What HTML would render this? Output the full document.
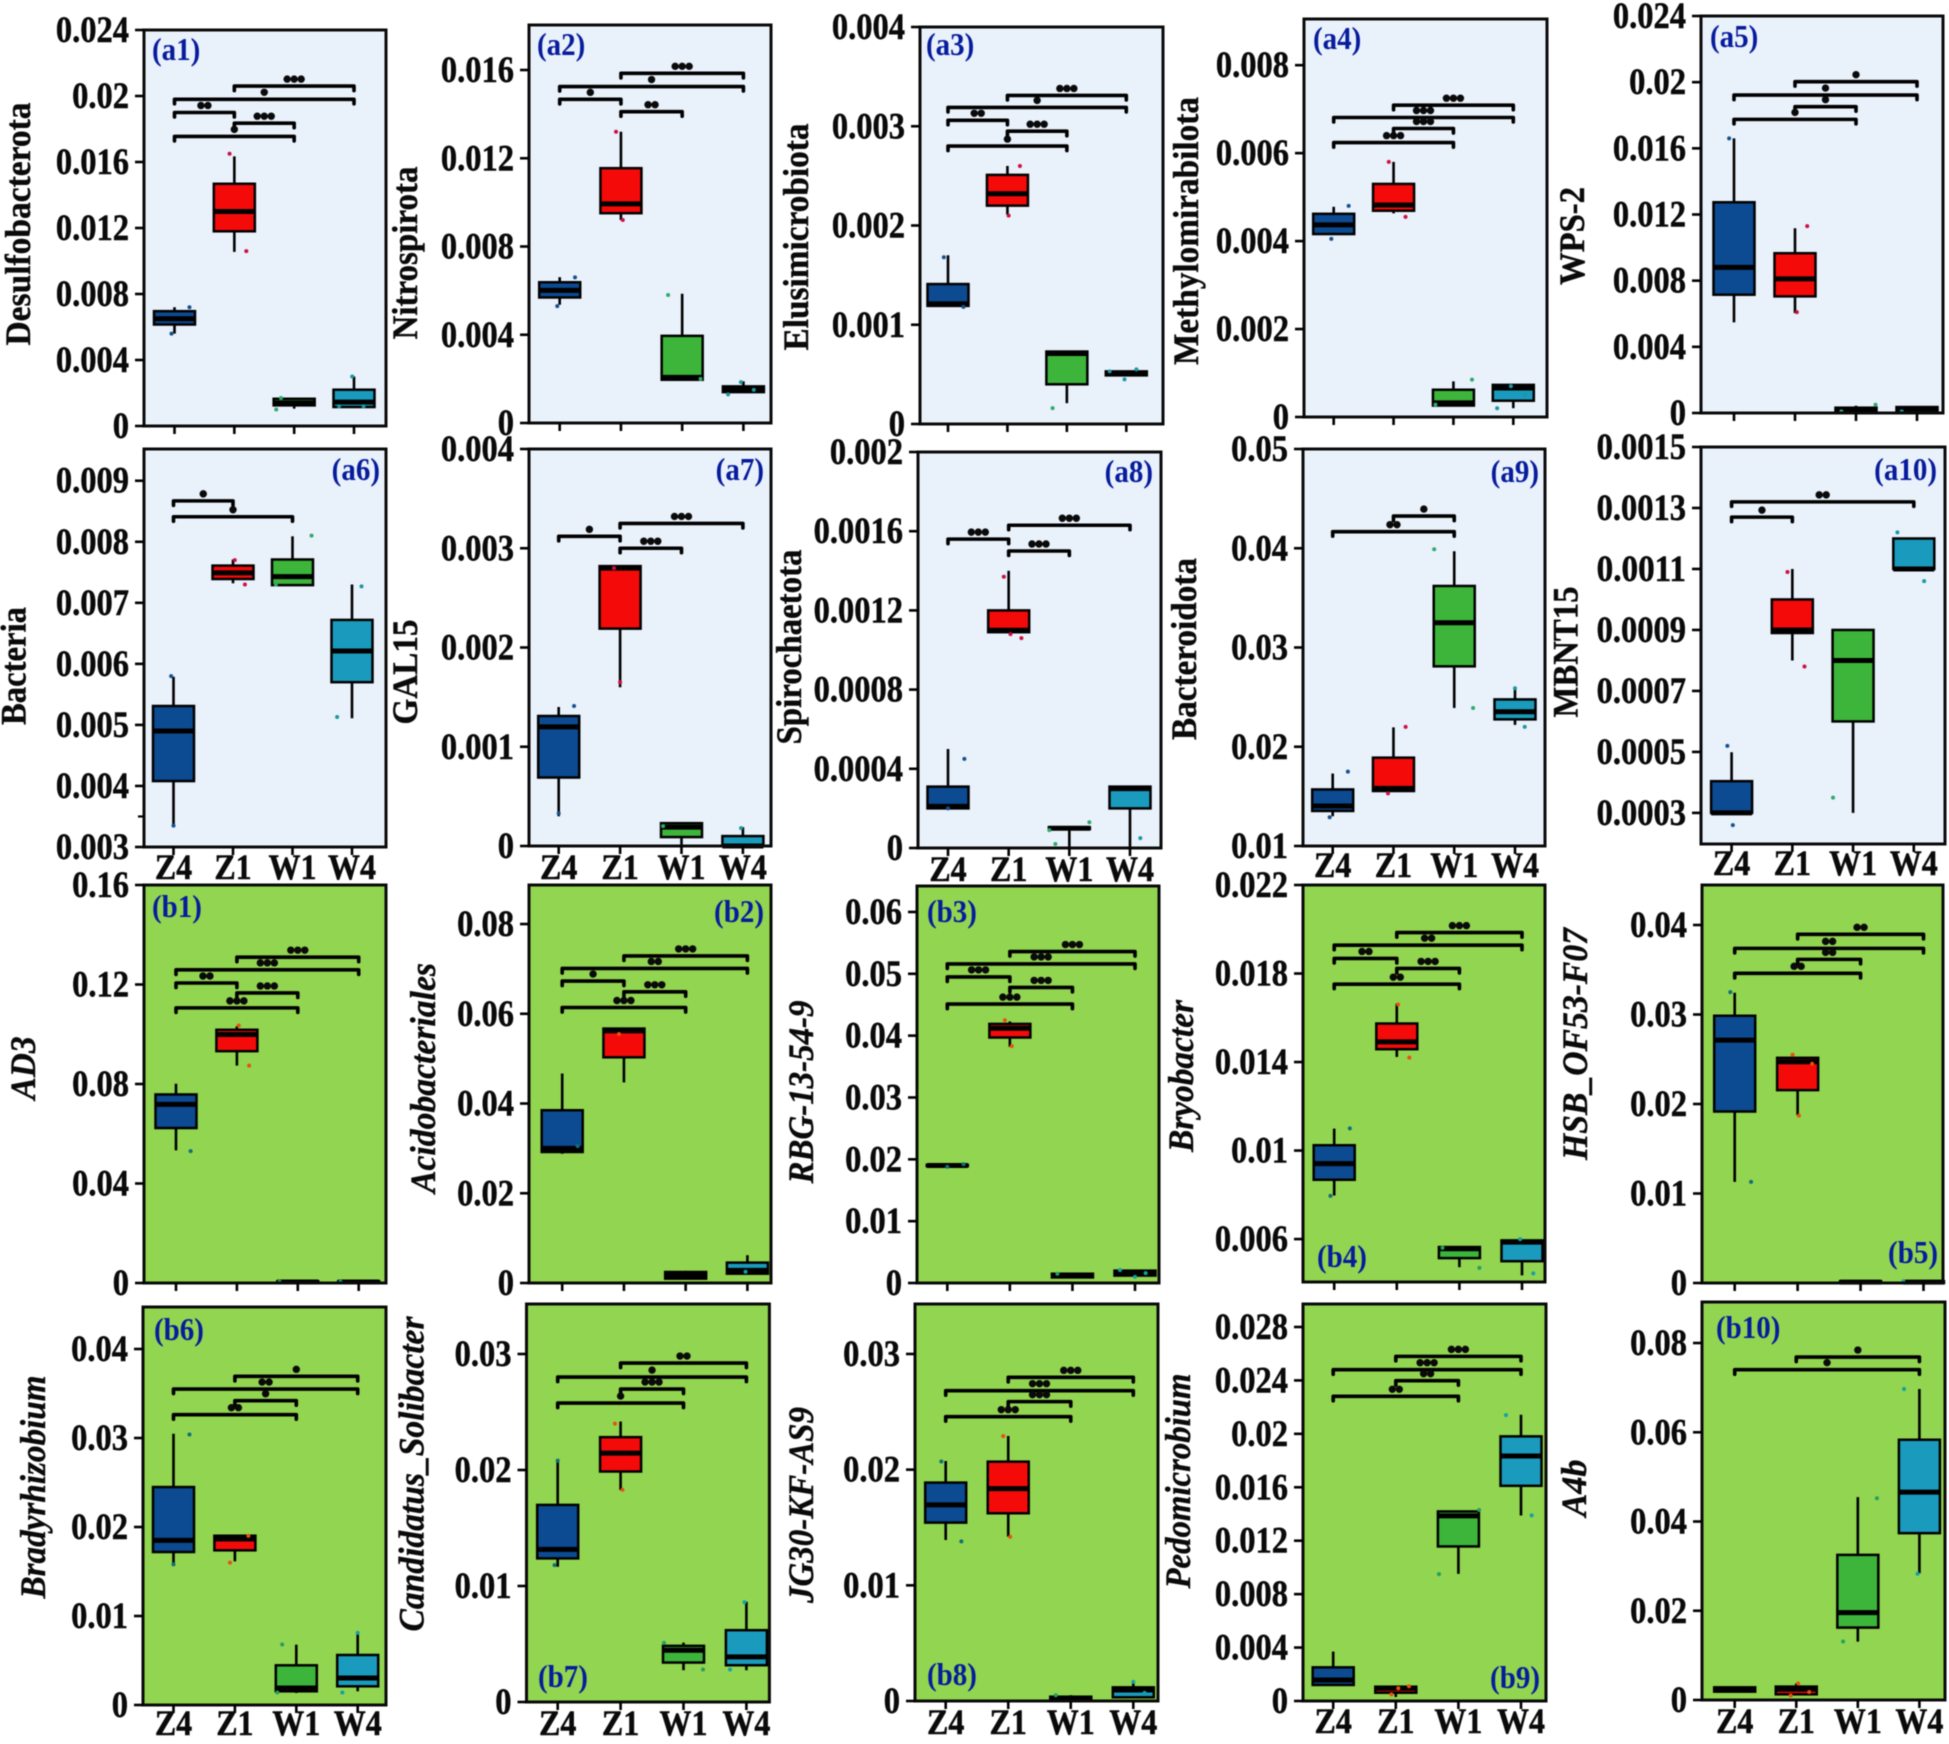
<!DOCTYPE html>
<html lang="en">
<head>
<meta charset="utf-8">
<title>Relative abundance box plots by group</title>
<style>
  html, body { margin: 0; padding: 0; background: #fff; }
  #figure { display: block; filter: blur(0.5px); }
  text { font-family: "Liberation Serif", "Noto Serif CJK SC", serif; font-weight: bold; }
</style>
</head>
<body>
<svg id="figure" xmlns="http://www.w3.org/2000/svg" width="1949" height="1744" viewBox="0 0 1949 1744"></svg>
<script>
const groupLabels = ['Z4', 'Z1', 'W1', 'W4'];

// Each box row: [low whisker, Q1, median, Q3, high whisker] for Z4, Z1, W1, W4
// Each point row: [group index, jitter in category units, value]
// Each bracket row: [from group, to group, value height, significance count]

const a1Title = 'Desulfobacterota';
const a1Domain = [0, 0.024];
const a1Ticks = ['0', '0.004', '0.008', '0.012', '0.016', '0.02', '0.024'];
const a1Boxes = [[0.0056, 0.00615, 0.0065, 0.00696, 0.0072], [0.01055, 0.0118, 0.013, 0.01468, 0.01634], [0.00105, 0.00125, 0.0014, 0.00165, 0.0017], [0.00115, 0.00115, 0.00145, 0.0022, 0.003]];
const a1Points = [[0, 0.25, 0.0072], [0, -0.05, 0.0056], [1, -0.08, 0.0165], [1, 0.2, 0.0106], [2, -0.22, 0.0017], [2, -0.3, 0.001], [3, -0.03, 0.003], [3, 0.16, 0.0012], [3, -0.25, 0.0012]];
const a1Brackets = [[1, 3, 0.0206, 3], [0, 3, 0.0198, 1], [0, 1, 0.019, 2], [1, 2, 0.01835, 3], [0, 2, 0.01755, 1]];

const a2Title = 'Nitrospirota';
const a2Domain = [0, 0.01804];
const a2Ticks = ['0', '0.004', '0.008', '0.012', '0.016'];
const a2Boxes = [[0.00536, 0.00569, 0.00601, 0.00638, 0.00661], [0.0092, 0.00951, 0.00993, 0.01155, 0.0132], [0.00196, 0.00196, 0.00207, 0.00395, 0.00586], [0.00136, 0.0014, 0.00154, 0.00166, 0.00189]];
const a2Points = [[0, 0.25, 0.0066], [0, -0.04, 0.0053], [1, -0.08, 0.0132], [1, 0.03, 0.0092], [2, -0.23, 0.0058], [2, 0.3, 0.002], [3, -0.04, 0.00185], [3, -0.25, 0.0013], [3, 0.17, 0.0015]];
const a2Brackets = [[1, 3, 0.01585, 3], [0, 3, 0.01525, 1], [0, 1, 0.01467, 1], [1, 2, 0.01411, 2]];

const a3Title = 'Elusimicrobiota';
const a3Domain = [0, 0.004];
const a3Ticks = ['0', '0.001', '0.002', '0.003', '0.004'];
const a3Boxes = [[0.00119, 0.00119, 0.00121, 0.00141, 0.0017], [0.00211, 0.0022, 0.00232, 0.00251, 0.0026], [0.00021, 0.0004, 0.00071, 0.00073, 0.00073], [0.00049, 0.00049, 0.00051, 0.00053, 0.00053]];
const a3Points = [[0, -0.07, 0.00168], [0, 0.26, 0.00118], [1, 0.21, 0.0026], [1, 0.02, 0.0021], [2, -0.24, 0.00016], [3, 0.17, 0.00055], [3, -0.03, 0.00045], [3, -0.28, 0.00053]];
const a3Brackets = [[1, 3, 0.00331, 3], [0, 3, 0.00319, 1], [0, 1, 0.00306, 2], [1, 2, 0.00295, 3], [0, 2, 0.0028, 1]];

const a4Title = 'Methylomirabilota';
const a4Domain = [0, 0.00905];
const a4Ticks = ['0', '0.002', '0.004', '0.006', '0.008'];
const a4Boxes = [[0.00416, 0.00416, 0.00437, 0.00462, 0.00478], [0.00463, 0.00469, 0.00482, 0.0053, 0.0058], [0.00026, 0.00026, 0.00032, 0.00062, 0.00081], [0.0002, 0.00037, 0.00066, 0.00073, 0.00073]];
const a4Points = [[0, 0.25, 0.0048], [0, -0.04, 0.00405], [1, -0.08, 0.0058], [1, 0.2, 0.00455], [2, 0.31, 0.00085], [2, -0.3, 0.00028], [3, -0.04, 0.0007], [3, -0.27, 0.0002], [3, 0.2, 0.0005]];
const a4Brackets = [[1, 3, 0.00709, 3], [0, 3, 0.00681, 3], [1, 2, 0.00656, 3], [0, 2, 0.00624, 3]];

const a5Title = 'WPS-2';
const a5Domain = [0, 0.024];
const a5Ticks = ['0', '0.004', '0.008', '0.012', '0.016', '0.02', '0.024'];
const a5Boxes = [[0.00548, 0.00715, 0.0088, 0.01274, 0.0166], [0.00604, 0.00705, 0.00811, 0.00966, 0.01117], [0, 0, 0.0002, 0.00032, 0.00044], [0.00004, 0.00004, 0.00026, 0.00036, 0.00036]];
const a5Points = [[0, -0.08, 0.0166], [1, 0.2, 0.0113], [1, 0.03, 0.0061], [2, -0.24, 0.0001], [2, 0.32, 0.0005], [3, -0.25, 0.0001]];
const a5Brackets = [[1, 3, 0.02003, 1], [0, 3, 0.01922, 1], [1, 2, 0.01852, 1], [0, 2, 0.01775, 1]];

const a6Title = 'Bacteria';
const a6Domain = [0.003, 0.00952];
const a6Ticks = ['0.003', '0.004', '0.005', '0.006', '0.007', '0.008', '0.009'];
const a6MinorTicks = [0.0035];
const a6Boxes = [[0.00334, 0.00408, 0.0049, 0.00531, 0.00579], [0.00732, 0.00739, 0.00749, 0.00761, 0.00771], [0.00729, 0.00729, 0.00743, 0.00771, 0.00809], [0.00511, 0.0057, 0.00621, 0.00672, 0.0073]];
const a6Points = [[0, -0.04, 0.0058], [0, 0, 0.00335], [1, 0.03, 0.0077], [1, 0.2, 0.0073], [2, 0.32, 0.0081], [2, -0.28, 0.0073], [3, 0.16, 0.00727], [3, -0.25, 0.00513]];
const a6Brackets = [[0, 1, 0.00867, 1], [0, 2, 0.00841, 1]];

const a7Title = 'GAL15';
const a7Domain = [0, 0.004];
const a7Ticks = ['0', '0.001', '0.002', '0.003', '0.004'];
const a7Boxes = [[0.0003, 0.00069, 0.0012, 0.00131, 0.0014], [0.0016, 0.00219, 0.0028, 0.00282, 0.00282], [0, 0.00009, 0.00019, 0.00023, 0.00023], [0, 0, 0, 0.0001, 0.00019]];
const a7Points = [[0, 0.25, 0.00141], [0, 0, 0.00033], [1, 0, 0.00165], [1, -0.1, 0.0028], [2, -0.3, 0.0002], [3, -0.03, 0.00018]];
const a7Brackets = [[1, 3, 0.00325, 3], [0, 1, 0.00312, 1], [1, 2, 0.003, 3]];

const a8Title = 'Spirochaetota';
const a8Domain = [0, 0.002];
const a8Ticks = ['0', '0.0004', '0.0008', '0.0012', '0.0016', '0.002'];
const a8Boxes = [[0.0002, 0.0002, 0.00021, 0.00031, 0.0005], [0.00109, 0.00109, 0.0011, 0.0012, 0.0014], [0, 0.000095, 0.0001, 0.000105, 0.000105], [0, 0.0002, 0.0003, 0.00031, 0.00031]];
const a8Points = [[0, 0.27, 0.00045], [0, 0, 0.0002], [1, -0.08, 0.00137], [1, 0.21, 0.00106], [1, 0.03, 0.00108], [2, -0.33, 0.00009], [2, -0.23, 0.00002], [2, 0.33, 0.00013], [3, 0.17, 0.00005]];
const a8Brackets = [[1, 3, 0.00163, 3], [0, 1, 0.00156, 3], [1, 2, 0.0015, 3]];

const a9Title = 'Bacteroidota';
const a9Domain = [0.01, 0.05];
const a9Ticks = ['0.01', '0.02', '0.03', '0.04', '0.05'];
const a9Boxes = [[0.013, 0.01353, 0.01403, 0.0157, 0.0173], [0.01554, 0.01554, 0.0158, 0.0189, 0.02195], [0.0239, 0.0281, 0.0325, 0.0362, 0.0397], [0.0222, 0.02276, 0.02353, 0.02477, 0.02605]];
const a9Points = [[0, 0.25, 0.0175], [0, -0.05, 0.0129], [1, 0.2, 0.022], [1, -0.09, 0.0153], [2, -0.33, 0.0399], [2, 0.31, 0.0239], [3, 0, 0.0259], [3, 0.16, 0.022]];
const a9Brackets = [[1, 2, 0.04324, 1], [0, 2, 0.04167, 2]];

const a10Title = 'MBNT15';
const a10Domain = [0.000198, 0.0015];
const a10Ticks = ['0.0003', '0.0005', '0.0007', '0.0009', '0.0011', '0.0013', '0.0015'];
const a10Boxes = [[0.0003, 0.0003, 0.0003, 0.000404, 0.000499], [0.0008, 0.00089, 0.0009, 0.001, 0.0011], [0.0003, 0.0006, 0.0008, 0.0009, 0.0009], [0.0011, 0.0011, 0.0011, 0.0012, 0.0012]];
const a10Points = [[0, -0.07, 0.00052], [0, 0.02, 0.00026], [1, -0.08, 0.00109], [1, 0.2, 0.00078], [2, -0.33, 0.00035], [3, -0.27, 0.00122], [3, 0.17, 0.00106]];
const a10Brackets = [[0, 3, 0.00132, 2], [0, 1, 0.00127, 1]];

const b1Title = 'AD3';
const b1Domain = [0, 0.16];
const b1Ticks = ['0', '0.04', '0.08', '0.12', '0.16'];
const b1Boxes = [[0.0533, 0.0623, 0.0718, 0.0758, 0.0801], [0.0874, 0.0932, 0.0999, 0.1018, 0.1032], [0.0001, 0.0001, 0.0004, 0.0007, 0.0008], [0.0001, 0.0001, 0.0004, 0.0007, 0.0008]];
const b1Points = [[0, 0.24, 0.053], [1, 0.2, 0.0874], [1, 0.03, 0.1035], [2, -0.3, 0.0005], [3, -0.3, 0.0005]];
const b1Brackets = [[1, 3, 0.131, 3], [0, 3, 0.1259, 3], [0, 1, 0.1206, 2], [1, 2, 0.1166, 3], [0, 2, 0.1106, 3]];

const b2Title = 'Acidobacteriales';
const b2Domain = [0, 0.0887];
const b2Ticks = ['0', '0.02', '0.04', '0.06', '0.08'];
const b2Boxes = [[0.0288, 0.0292, 0.03, 0.0385, 0.0467], [0.0447, 0.0503, 0.0562, 0.0567, 0.0567], [0.0008, 0.00097, 0.0017, 0.00245, 0.0027], [0.00208, 0.00208, 0.0028, 0.00454, 0.0062]];
const b2Points = [[0, 0.25, 0.0305], [1, -0.08, 0.0555], [3, -0.03, 0.0025]];
const b2Brackets = [[1, 3, 0.0729, 3], [0, 3, 0.0701, 2], [0, 1, 0.0673, 1], [1, 2, 0.0649, 3], [0, 2, 0.0614, 3]];

const b3Title = 'RBG-13-54-9';
const b3Domain = [0, 0.0642];
const b3Ticks = ['0', '0.01', '0.02', '0.03', '0.04', '0.05', '0.06'];
const b3Boxes = [[0.0189, 0.0189, 0.019, 0.0191, 0.0191], [0.0382, 0.0397, 0.0412, 0.0419, 0.0423], [0.0009, 0.0009, 0.0012, 0.0015, 0.0015], [0.0012, 0.0012, 0.0016, 0.002, 0.002]];
const b3Points = [[0, 0.26, 0.0192], [0, 0, 0.0188], [1, -0.08, 0.0425], [1, 0.03, 0.0383], [2, -0.24, 0.0015], [3, -0.24, 0.0021], [3, 0, 0.001], [3, 0.17, 0.0016]];
const b3Brackets = [[1, 3, 0.0536, 3], [0, 3, 0.0516, 3], [0, 1, 0.0495, 3], [1, 2, 0.0478, 3], [0, 2, 0.0451, 3]];

const b4Title = 'Bryobacter';
const b4Domain = [0.00406, 0.022];
const b4Ticks = ['0.006', '0.01', '0.014', '0.018', '0.022'];
const b4Boxes = [[0.00797, 0.00868, 0.00941, 0.01024, 0.01099], [0.01423, 0.01458, 0.01491, 0.01574, 0.01664], [0.00473, 0.00514, 0.00556, 0.00564, 0.00564], [0.00436, 0.005, 0.00586, 0.00594, 0.00594]];
const b4Points = [[0, 0.25, 0.011], [0, -0.06, 0.00795], [1, 0.02, 0.0166], [1, 0.2, 0.0142], [2, 0.32, 0.0047], [2, -0.27, 0.0056], [3, 0.18, 0.00445], [3, -0.03, 0.006]];
const b4Brackets = [[1, 3, 0.01985, 3], [0, 3, 0.01928, 2], [0, 1, 0.01868, 2], [1, 2, 0.01823, 3], [0, 2, 0.01752, 2]];

const b5Title = 'HSB_OF53-F07';
const b5Domain = [0, 0.04447];
const b5Ticks = ['0', '0.01', '0.02', '0.03', '0.04'];
const b5Boxes = [[0.0113, 0.01916, 0.02714, 0.02986, 0.03243], [0.01875, 0.02155, 0.02472, 0.02516, 0.02516], [0, 0, 0.0001, 0.0002, 0.0002], [0, 0, 0.0001, 0.0002, 0.0002]];
const b5Points = [[0, 0.26, 0.0113], [0, -0.07, 0.0325], [1, 0.02, 0.0187], [1, -0.08, 0.0255], [1, 0.23, 0.0245], [3, -0.32, 0.0002]];
const b5Brackets = [[1, 3, 0.03896, 2], [0, 3, 0.03739, 2], [1, 2, 0.03616, 2], [0, 2, 0.0346, 2]];

const b6Title = 'Bradyrhizobium';
const b6Domain = [0, 0.04472];
const b6Ticks = ['0', '0.01', '0.02', '0.03', '0.04'];
const b6Boxes = [[0.01577, 0.01719, 0.0185, 0.02449, 0.03048], [0.01614, 0.01738, 0.01865, 0.01902, 0.01902], [0.00135, 0.00154, 0.00191, 0.00446, 0.00678], [0.00154, 0.0021, 0.00303, 0.00562, 0.00809]];
const b6Points = [[0, 0.26, 0.0304], [0, 0, 0.0158], [1, -0.08, 0.016], [1, 0.22, 0.019], [2, -0.23, 0.0068], [2, -0.31, 0.0014], [3, 0, 0.0081], [3, -0.25, 0.0014]];
const b6Brackets = [[1, 3, 0.03693, 1], [0, 3, 0.0355, 2], [1, 2, 0.03419, 1], [0, 2, 0.03262, 2]];

const b7Title = 'Candidatus_Solibacter';
const b7Domain = [0, 0.03431];
const b7Ticks = ['0', '0.01', '0.02', '0.03'];
const b7Boxes = [[0.01166, 0.01238, 0.01316, 0.01699, 0.02096], [0.01828, 0.01987, 0.02145, 0.02283, 0.02418], [0.00274, 0.0034, 0.00446, 0.00484, 0.00512], [0.00274, 0.00317, 0.00389, 0.00619, 0.00864]];
const b7Points = [[0, 0, 0.0208], [0, -0.05, 0.0118], [1, -0.09, 0.024], [1, 0.03, 0.0183], [2, 0.31, 0.0028], [2, -0.31, 0.0051], [3, -0.03, 0.0086], [3, -0.26, 0.0028]];
const b7Brackets = [[1, 3, 0.02922, 2], [0, 3, 0.02801, 1], [1, 2, 0.02698, 3], [0, 2, 0.02577, 1]];

const b8Title = 'JG30-KF-AS9';
const b8Domain = [0, 0.03432];
const b8Ticks = ['0', '0.01', '0.02', '0.03'];
const b8Boxes = [[0.01392, 0.01542, 0.01695, 0.01888, 0.02075], [0.01421, 0.01623, 0.01836, 0.02069, 0.02291], [0.00005, 0.00009, 0.0002, 0.00037, 0.0005], [0.00032, 0.00032, 0.00095, 0.00118, 0.00167]];
const b8Points = [[0, -0.07, 0.0207], [0, 0.25, 0.0138], [1, -0.08, 0.0229], [1, 0.03, 0.0142], [2, -0.24, 0.0005], [3, 0, 0.00165], [3, 0.18, 0.0007]];
const b8Brackets = [[1, 3, 0.02798, 3], [0, 3, 0.02683, 3], [1, 2, 0.02588, 3], [0, 2, 0.02458, 3]];

const b9Title = 'Pedomicrobium';
const b9Domain = [0, 0.02972];
const b9Ticks = ['0', '0.004', '0.008', '0.012', '0.016', '0.02', '0.024', '0.028'];
const b9Boxes = [[0.0012, 0.0012, 0.00157, 0.00252, 0.0037], [0.0003, 0.00062, 0.00095, 0.00107, 0.00107], [0.00952, 0.01157, 0.01386, 0.01419, 0.01426], [0.01389, 0.01611, 0.01834, 0.01981, 0.02143]];
const b9Points = [[1, -0.07, 0.0005], [1, 0.04, 0.00095], [1, 0.21, 0.0011], [2, -0.31, 0.0095], [2, 0.33, 0.0143], [3, -0.24, 0.0214], [3, 0.17, 0.0139]];
const b9Brackets = [[1, 3, 0.0258, 3], [0, 3, 0.0248, 3], [1, 2, 0.02398, 2], [0, 2, 0.02281, 2]];

const b10Title = 'A4b';
const b10Domain = [0, 0.08919];
const b10Ticks = ['0', '0.02', '0.04', '0.06', '0.08'];
const b10Boxes = [[0.00187, 0.00187, 0.0024, 0.00284, 0.00284], [0.00127, 0.00127, 0.0024, 0.003, 0.0037], [0.01308, 0.01623, 0.01959, 0.03252, 0.04546], [0.02841, 0.03739, 0.04658, 0.05832, 0.06969]];
const b10Points = [[1, 0.03, 0.0037], [1, -0.09, 0.001], [1, 0.21, 0.0018], [2, 0.31, 0.0452], [2, -0.24, 0.0131], [3, -0.25, 0.0697], [3, -0.03, 0.0283]];
const b10Brackets = [[1, 3, 0.07686, 1], [0, 3, 0.07402, 1]];

// Page geometry only (no data values): frame edges, first/last group x, title and tag placement.
const frameLayouts = {
  a1:  { l: 144,  r: 386,  t: 30,   b: 426,  x0: 174.5, x3: 354,    tx: 30,   ty: 224,  tl: 243, lx: 152,  ly: 60,   la: 'start' },
  a2:  { l: 529,  r: 771,  t: 25,   b: 423,  x0: 559.7, x3: 743.4,  tx: 417,  ty: 253,  tl: 173, lx: 537,  ly: 55,   la: 'start' },
  a3:  { l: 920,  r: 1163, t: 27,   b: 424,  x0: 948,   x3: 1126.3, tx: 808,  ty: 237,  tl: 227, lx: 926,  ly: 55,   la: 'start' },
  a4:  { l: 1304, r: 1547, t: 19,   b: 417,  x0: 1333.7, x3: 1513.3, tx: 1198, ty: 231, tl: 268, lx: 1313, ly: 49,   la: 'start' },
  a5:  { l: 1701, r: 1943, t: 16,   b: 413,  x0: 1734,  x3: 1917,   tx: 1584, ty: 236,  tl: 98,  lx: 1710, ly: 47,   la: 'start' },
  a6:  { l: 144,  r: 386,  t: 449,  b: 847,  x0: 173.5, x3: 352,    tx: 25.5, ty: 666,  tl: 118, lx: 380,  ly: 480,  la: 'end', xl: 879 },
  a7:  { l: 529,  r: 771,  t: 449,  b: 846,  x0: 558.7, x3: 742.9,  tx: 417,  ty: 672,  tl: 105, lx: 764,  ly: 480,  la: 'end', xl: 879 },
  a8:  { l: 918,  r: 1161, t: 452,  b: 848,  x0: 948,   x3: 1130,   tx: 801,  ty: 647,  tl: 195, lx: 1153, ly: 482,  la: 'end', xl: 881 },
  a9:  { l: 1303, r: 1545, t: 449,  b: 846,  x0: 1332.7, x3: 1515,  tx: 1196, ty: 649,  tl: 182, lx: 1539, ly: 482,  la: 'end', xl: 877 },
  a10: { l: 1701, r: 1945, t: 447,  b: 844,  x0: 1731.6, x3: 1913.8, tx: 1577.5, ty: 652, tl: 131, lx: 1937, ly: 480, la: 'end', xl: 875 },
  b1:  { l: 144,  r: 386,  t: 885,  b: 1283, x0: 176,   x3: 358.7,  tx: 35,   ty: 1068, tl: 63,  lx: 152,  ly: 917,  la: 'start' },
  b2:  { l: 529,  r: 771,  t: 885,  b: 1283, x0: 562.2, x3: 747.4,  tx: 435,  ty: 1078, tl: 230, lx: 764,  ly: 922,  la: 'end' },
  b3:  { l: 917,  r: 1159, t: 886,  b: 1283, x0: 947.3, x3: 1135,   tx: 813,  ty: 1092, tl: 183, lx: 927,  ly: 922,  la: 'start' },
  b4:  { l: 1303, r: 1545, t: 885,  b: 1282, x0: 1334.2, x3: 1522,  tx: 1193, ty: 1076, tl: 152, lx: 1317, ly: 1267, la: 'start' },
  b5:  { l: 1702, r: 1943, t: 885,  b: 1283, x0: 1734.7, x3: 1923.5, tx: 1587, ty: 1044, tl: 232, lx: 1938, ly: 1263, la: 'end' },
  b6:  { l: 143,  r: 386,  t: 1307, b: 1705, x0: 173.5, x3: 357.7,  tx: 45,   ty: 1487, tl: 223, lx: 154,  ly: 1340, la: 'start', xl: 1735 },
  b7:  { l: 526.5, r: 769.4, t: 1304, b: 1702, x0: 557.7, x3: 746.4, tx: 423.5, ty: 1474, tl: 315, lx: 538, ly: 1687, la: 'start', xl: 1735 },
  b8:  { l: 915,  r: 1158, t: 1304, b: 1701, x0: 945.7, x3: 1133.3, tx: 813,  ty: 1505, tl: 196, lx: 927,  ly: 1685, la: 'start', xl: 1734 },
  b9:  { l: 1303, r: 1546, t: 1304, b: 1701, x0: 1333.2, x3: 1521,  tx: 1190, ty: 1481, tl: 215, lx: 1540, ly: 1688, la: 'end', xl: 1733 },
  b10: { l: 1702, r: 1945, t: 1302, b: 1700, x0: 1734.7, x3: 1919.4, tx: 1586, ty: 1488, tl: 57, lx: 1716, ly: 1338, la: 'start', xl: 1733 }
};

const panels = [
  { id: 'a1',  title: a1Title,  domain: a1Domain,  ticks: a1Ticks,  boxes: a1Boxes,  points: a1Points,  brackets: a1Brackets },
  { id: 'a2',  title: a2Title,  domain: a2Domain,  ticks: a2Ticks,  boxes: a2Boxes,  points: a2Points,  brackets: a2Brackets },
  { id: 'a3',  title: a3Title,  domain: a3Domain,  ticks: a3Ticks,  boxes: a3Boxes,  points: a3Points,  brackets: a3Brackets },
  { id: 'a4',  title: a4Title,  domain: a4Domain,  ticks: a4Ticks,  boxes: a4Boxes,  points: a4Points,  brackets: a4Brackets },
  { id: 'a5',  title: a5Title,  domain: a5Domain,  ticks: a5Ticks,  boxes: a5Boxes,  points: a5Points,  brackets: a5Brackets },
  { id: 'a6',  title: a6Title,  domain: a6Domain,  ticks: a6Ticks,  boxes: a6Boxes,  points: a6Points,  brackets: a6Brackets, minor: a6MinorTicks },
  { id: 'a7',  title: a7Title,  domain: a7Domain,  ticks: a7Ticks,  boxes: a7Boxes,  points: a7Points,  brackets: a7Brackets },
  { id: 'a8',  title: a8Title,  domain: a8Domain,  ticks: a8Ticks,  boxes: a8Boxes,  points: a8Points,  brackets: a8Brackets },
  { id: 'a9',  title: a9Title,  domain: a9Domain,  ticks: a9Ticks,  boxes: a9Boxes,  points: a9Points,  brackets: a9Brackets },
  { id: 'a10', title: a10Title, domain: a10Domain, ticks: a10Ticks, boxes: a10Boxes, points: a10Points, brackets: a10Brackets },
  { id: 'b1',  title: b1Title,  domain: b1Domain,  ticks: b1Ticks,  boxes: b1Boxes,  points: b1Points,  brackets: b1Brackets },
  { id: 'b2',  title: b2Title,  domain: b2Domain,  ticks: b2Ticks,  boxes: b2Boxes,  points: b2Points,  brackets: b2Brackets },
  { id: 'b3',  title: b3Title,  domain: b3Domain,  ticks: b3Ticks,  boxes: b3Boxes,  points: b3Points,  brackets: b3Brackets },
  { id: 'b4',  title: b4Title,  domain: b4Domain,  ticks: b4Ticks,  boxes: b4Boxes,  points: b4Points,  brackets: b4Brackets },
  { id: 'b5',  title: b5Title,  domain: b5Domain,  ticks: b5Ticks,  boxes: b5Boxes,  points: b5Points,  brackets: b5Brackets },
  { id: 'b6',  title: b6Title,  domain: b6Domain,  ticks: b6Ticks,  boxes: b6Boxes,  points: b6Points,  brackets: b6Brackets },
  { id: 'b7',  title: b7Title,  domain: b7Domain,  ticks: b7Ticks,  boxes: b7Boxes,  points: b7Points,  brackets: b7Brackets },
  { id: 'b8',  title: b8Title,  domain: b8Domain,  ticks: b8Ticks,  boxes: b8Boxes,  points: b8Points,  brackets: b8Brackets },
  { id: 'b9',  title: b9Title,  domain: b9Domain,  ticks: b9Ticks,  boxes: b9Boxes,  points: b9Points,  brackets: b9Brackets },
  { id: 'b10', title: b10Title, domain: b10Domain, ticks: b10Ticks, boxes: b10Boxes, points: b10Points, brackets: b10Brackets }
];

const boxFills = ['#0c4a92', '#f50a0a', '#3db53a', '#1a9bbd'];
const pointFillsBlue = ['#14508f', '#cc1040', '#2fa96d', '#1a98a0'];
const pointFillsGreen = ['#0f6f78', '#e8500f', '#22a060', '#12a0a8'];
const glyphEm = { '.': 0.25, Z: 0.667, W: 1, '(': 0.333, ')': 0.333, a: 0.5, b: 0.556 };
const NS = 'http://www.w3.org/2000/svg';
const figure = document.getElementById('figure');

function node(tag, parent) {
  const n = document.createElementNS(NS, tag);
  parent.appendChild(n);
  return n;
}
function geom(n, attrs) {
  Object.keys(attrs).forEach(function (k) { n.setAttribute(k, attrs[k]); });
  return n;
}
function emWidth(s) {
  let w = 0;
  for (const ch of s) { w += (ch in glyphEm) ? glyphEm[ch] : 0.5; }
  return w;
}
function makeYScale(p, f) {
  return function (v) { return f.b - (v - p.domain[0]) / (p.domain[1] - p.domain[0]) * (f.b - f.t); };
}
function makeXScale(f) {
  return function (g) { return f.x0 + g * (f.x3 - f.x0) / 3; };
}

panels.forEach(function (p) {
  const f = frameLayouts[p.id];
  const y = makeYScale(p, f);
  const x = makeXScale(f);
  const step = (f.x3 - f.x0) / 3;
  const isB = p.id.charAt(0) === 'b';
  const pointFills = isB ? pointFillsGreen : pointFillsBlue;

  const g = node('g', figure);
  
  

  const bg = geom(node('rect', g), { x: f.l, y: f.t, width: f.r - f.l, height: f.b - f.t, fill: isB ? '#92d550' : '#e9f1fb' });
  
  

  // whiskers, boxes, medians
  p.boxes.forEach(function (s, i) {
    const cx = x(i);
    const bx = node('g', g);
    
    
    geom(node('line', bx), { x1: cx, x2: cx, y1: y(s[0]), y2: y(s[4]), stroke: '#000', 'stroke-width': 2.6 });
    geom(node('rect', bx), { x: cx - 20.5, y: y(s[3]), width: 41, height: Math.max(y(s[1]) - y(s[3]), 1), fill: boxFills[i], stroke: '#000', 'stroke-width': 2.5 });
    geom(node('line', bx), { x1: cx - 20.5, x2: cx + 20.5, y1: y(s[2]), y2: y(s[2]), stroke: '#000', 'stroke-width': 5 });
  });

  // jittered sample points
  p.points.forEach(function (pt) {
    const c = geom(node('circle', g), { cx: x(pt[0]) + pt[1] * step, cy: y(pt[2]), r: 2, fill: pointFills[pt[0]] });
    
    
  });

  // significance brackets
  p.brackets.forEach(function (br) {
    const x1 = x(br[0]);
    const x2 = x(br[1]);
    const by = y(br[2]);
    const bk = node('g', g);
    
    
    geom(node('path', bk), { d: 'M' + x1 + ' ' + (by + 4.5) + 'V' + by + 'H' + x2 + 'V' + (by + 4.5), fill: 'none', stroke: '#000', 'stroke-width': 3.6, 'stroke-linejoin': 'round', 'stroke-linecap': 'round' });
    const mid = (x1 + x2) / 2;
    for (let k = 0; k < br[3]; k++) {
      const off = (k - (br[3] - 1) / 2) * 7;
      geom(node('circle', bk), { cx: mid + off, cy: by - 7, r: 3.7, fill: '#0a0a0a' });
    }
  });

  // frame
  const frame = geom(node('rect', g), { x: f.l, y: f.t, width: f.r - f.l, height: f.b - f.t, fill: 'none', stroke: '#0a0a0a', 'stroke-width': 3 });
  
  

  // y axis
  const yAxis = node('g', g);
  
  
  p.ticks.forEach(function (label) {
    const ty = y(parseFloat(label));
    geom(node('line', yAxis), { x1: f.l - 9, x2: f.l, y1: ty, y2: ty, stroke: '#000', 'stroke-width': 2.6 });
    const t = geom(node('text', yAxis), { x: f.l - 15, y: ty + 12, 'text-anchor': 'end', 'font-size': 36.5, fill: '#0a0a0a', stroke: '#0a0a0a', 'stroke-width': 0.5, textLength: emWidth(label) * 32.5, lengthAdjust: 'spacingAndGlyphs' });
    
    
    t.textContent = label;
  });
  (p.minor || []).forEach(function (v) {
    geom(node('line', yAxis), { x1: f.l - 6, x2: f.l, y1: y(v), y2: y(v), stroke: '#000', 'stroke-width': 2.2 });
  });

  // x axis
  const xAxis = node('g', g);
  
  
  groupLabels.forEach(function (label, i) {
    geom(node('line', xAxis), { x1: x(i), x2: x(i), y1: f.b, y2: f.b + 8, stroke: '#000', 'stroke-width': 2.6 });
    if (f.xl) {
      const t = geom(node('text', xAxis), { x: x(i), y: f.xl, 'text-anchor': 'middle', 'font-size': 36, fill: '#0a0a0a', stroke: '#0a0a0a', 'stroke-width': 0.5, textLength: emWidth(label) * 32, lengthAdjust: 'spacingAndGlyphs' });
      
      
      t.textContent = label;
    }
  });

  // y axis title
  const title = geom(node('text', g), { x: f.tx, y: f.ty, transform: 'rotate(-90 ' + f.tx + ' ' + f.ty + ')', 'text-anchor': 'middle', 'font-size': 36, fill: '#0a0a0a', stroke: '#0a0a0a', 'stroke-width': 0.4, textLength: f.tl, lengthAdjust: 'spacingAndGlyphs' });
  
  
  if (isB) { title.setAttribute('font-style', 'italic'); }
  title.textContent = p.title;

  // panel tag
  const tagText = '(' + p.id + ')';
  const tag = geom(node('text', g), { x: f.lx, y: f.ly, 'text-anchor': f.la, 'font-size': 32, fill: '#071c9c', textLength: emWidth(tagText) * 29, lengthAdjust: 'spacingAndGlyphs' });
  
  
  tag.textContent = tagText;
});
</script>
</body>
</html>
